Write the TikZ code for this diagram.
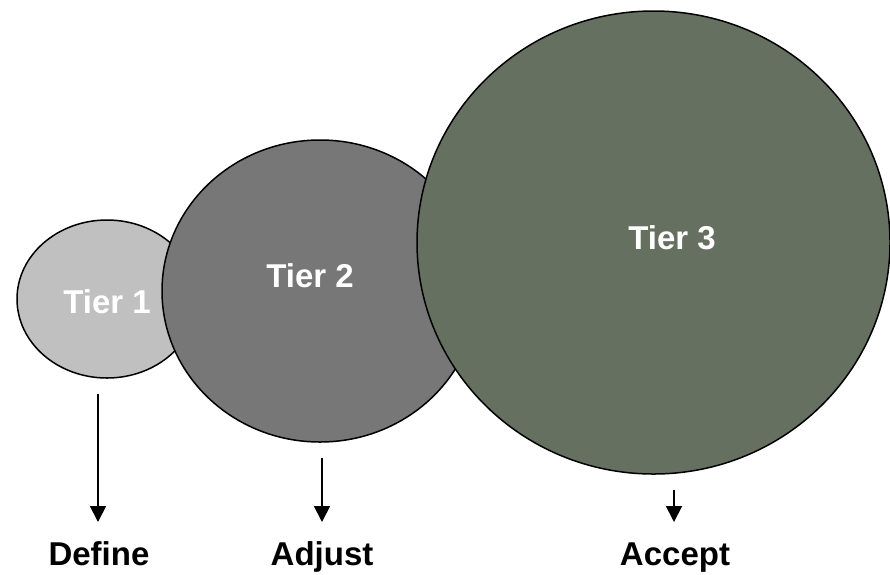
\documentclass[tikz,border=0pt]{standalone}
\usepackage{fontspec}
\setmainfont{Liberation Sans}
\usetikzlibrary{shapes.geometric,arrows.meta}
\definecolor{tierA}{HTML}{C0C0C0}
\definecolor{tierB}{HTML}{777777}
\definecolor{tierC}{HTML}{667061}
\begin{document}
\begin{tikzpicture}[x=1pt,y=-1pt,
  tier/.style={ellipse, draw=black, line width=1.5pt, inner sep=0pt},
  tiertext/.style={text=white, font=\fontsize{33}{39}\selectfont\bfseries, anchor=base},
  lbl/.style={text=black, font=\fontsize{33}{39}\selectfont\bfseries, anchor=base},
  arr/.style={line width=1.8pt, -{Triangle[width=16pt,length=16pt]}}]
\useasboundingbox (0,0) rectangle (890,574);
\node[tier, fill=tierA, minimum width=180pt, minimum height=158pt] (t1) at (107,299) {};
\node[tier, fill=tierB, minimum width=316pt, minimum height=302pt] (t2) at (320,291) {};
\node[tier, fill=tierC, minimum width=473pt, minimum height=463pt] (t3) at (653.5,242.5) {};
\node[tiertext] (t1t) at (107,313) {Tier 1};
\node[tiertext] (t2t) at (310,287) {Tier 2};
\node[tiertext] (t3t) at (672,249) {Tier 3};
\node[lbl] (def) at (99,565) {Define};
\node[lbl] (adj) at (322,565) {Adjust};
\node[lbl] (acc) at (675,565) {Accept};
\coordinate (a1s) at (98,394);
\coordinate (a1e) at (98,522);
\coordinate (a2s) at (322,458);
\coordinate (a2e) at (322,522);
\coordinate (a3s) at (674,490);
\coordinate (a3e) at (674,522);
\draw[arr] (a1s) -- (a1e);
\draw[arr] (a2s) -- (a2e);
\draw[arr] (a3s) -- (a3e);
\end{tikzpicture}
\end{document}
